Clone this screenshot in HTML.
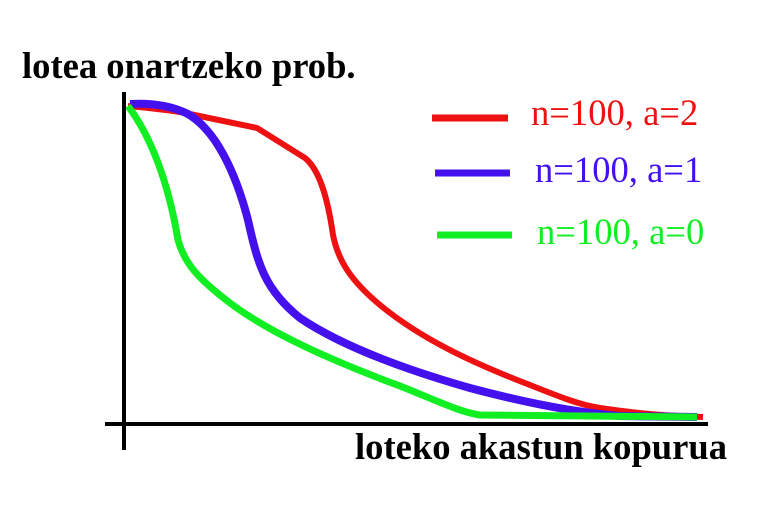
<!DOCTYPE html>
<html><head><style>body{margin:0;background:#fff}svg{display:block}</style></head><body>
<svg width="768" height="512" viewBox="0 0 768 512" xmlns="http://www.w3.org/2000/svg">
<rect width="768" height="512" fill="#fff"/>
<g fill="none" stroke-linecap="butt" stroke-linejoin="round">
<path d="M128,106 C150,108 170,110 185,113 L257,128 L305,158 C320,170 328,200 333,235 C338,260 350,280 380,305 C420,338 470,362 530,385 C560,397 580,405 600,408 C640,414 670,416 703,417" stroke="#ee1111" stroke-width="6"/>
<path d="M130,104 C150,103 170,105 188,114 C215,130 235,170 248,220 C258,265 265,290 300,318 C340,345 400,368 470,388 C530,404 580,413 620,416 L697,417" stroke="#4411ee" stroke-width="8"/>
<path d="M128,106 C150,135 168,180 178,240 C185,265 200,280 230,303 C270,333 330,360 400,386 C440,402 460,412 480,415 L697,417" stroke="#11ee22" stroke-width="7"/>
<line x1="432" y1="118" x2="508" y2="118" stroke="#ee1111" stroke-width="7"/>
<line x1="435" y1="173" x2="510" y2="173" stroke="#4411ee" stroke-width="7"/>
<line x1="437" y1="235" x2="512" y2="235" stroke="#11ee22" stroke-width="7"/>
<line x1="124" y1="92" x2="124" y2="450" stroke="#000" stroke-width="4"/>
<line x1="105" y1="424" x2="708" y2="424" stroke="#000" stroke-width="4"/>
</g>
<g font-family="Liberation Serif, serif" font-size="36.6">
<text x="531" y="125" fill="#ee1111">n=100, a=2</text>
<text x="535" y="182" fill="#4411ee">n=100, a=1</text>
<text x="537" y="244" fill="#11ee22">n=100, a=0</text>
</g>
<g font-family="Liberation Serif, serif" font-size="36.6" font-weight="bold" fill="#000">
<text x="22" y="78">lotea onartzeko prob.</text>
<text x="355" y="459">loteko akastun kopurua</text>
</g>
</svg>
</body></html>
